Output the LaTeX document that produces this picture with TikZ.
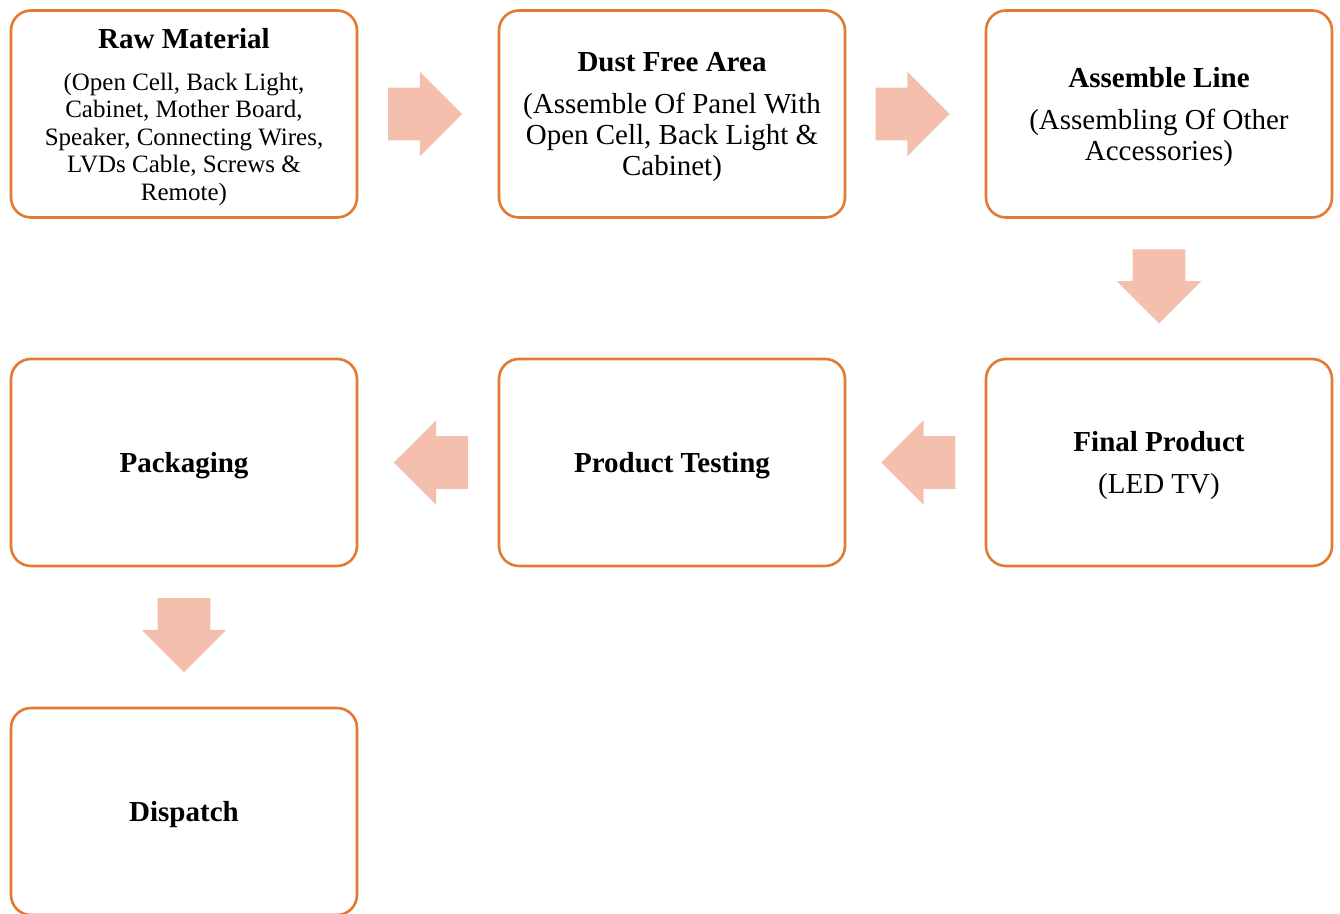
\documentclass[tikz,border=0pt]{standalone}
\usepackage{fontspec}
\setmainfont{Liberation Serif}
\usetikzlibrary{shapes.arrows,calc}
\definecolor{cadre}{RGB}{226,122,52}
\definecolor{fleche}{RGB}{244,192,173}
\newcommand{\haut}{\rule{0pt}{12.8pt}}

\begin{document}
\begin{tikzpicture}[x=0.5pt,y=-0.5pt,
  etape/.style={draw=cadre, line width=1.3pt, rounded corners=10pt, minimum width=173pt, minimum height=103.5pt, align=center, inner sep=0pt, font=\fontsize{14.5}{15.5}\selectfont},
  bloc/.style={single arrow, fill=fleche, draw=none, minimum height=37pt, inner xsep=0pt, inner ysep=13pt, single arrow head extend=8pt}]
\useasboundingbox (0,0) rectangle (1340,914);

\node[etape, font=\fontsize{12.5}{13.75}\selectfont] (raw) at (184,114) {\haut{\fontsize{14.5}{15.5}\selectfont\bfseries Raw Material}\\[7.25pt] (Open Cell, Back Light,\\ Cabinet, Mother Board,\\ Speaker, Connecting Wires,\\ LVDs Cable, Screws \&\\ Remote)};
\node[etape] (dust) at (672,114) {\haut{\bfseries Dust Free Area}\\[5.5pt] (Assemble Of Panel With\\ Open Cell, Back Light \&\\ Cabinet)};
\node[etape] (line) at (1159,114) {\haut{\bfseries Assemble Line}\\[5.5pt] (Assembling Of Other\\ Accessories)};
\node[etape] (final) at (1159,462.5) {\haut{\bfseries Final Product}\\[5.5pt] (LED TV)};
\node[etape] (test) at (672,462.5) {\haut\bfseries Product Testing};
\node[etape] (pack) at (184,462.5) {\haut\bfseries Packaging};
\node[etape] (disp) at (184,811.5) {\haut\bfseries Dispatch};

\node[bloc] (f1) at ($(raw.east)!0.5!(dust.west)+(-16,0)$) {};
\node[bloc] (f2) at ($(dust.east)!0.5!(line.west)+(-16,0)$) {};
\node[bloc, rotate=-90] (f3) at ($(line.south)!0.5!(final.north)+(0,-15)$) {};
\node[bloc, rotate=180] (f4) at ($(final.west)!0.5!(test.east)+(16,0)$) {};
\node[bloc, rotate=180] (f5) at ($(test.west)!0.5!(pack.east)+(16,0)$) {};
\node[bloc, rotate=-90] (f6) at ($(pack.south)!0.5!(disp.north)+(0,-15)$) {};
\end{tikzpicture}
\end{document}
